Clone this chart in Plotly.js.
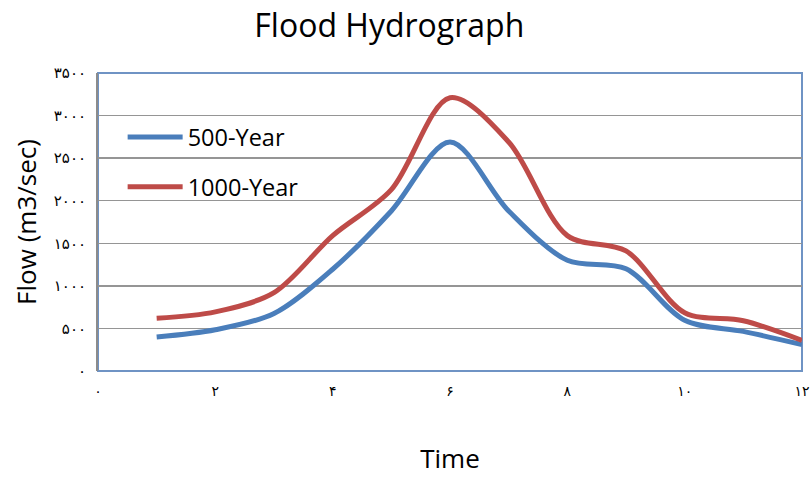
<!DOCTYPE html>
<html>
<head>
<meta charset="utf-8">
<script src="https://cdn.plot.ly/plotly-3.0.1.min.js"></script>
<style>html,body{margin:0;padding:0;background:#fff;}#chart{width:811px;height:477px;}</style>
</head>
<body>
<div id="chart"></div>
<script>
const time = [1, 2, 3, 4, 5, 6, 7, 8, 9, 10, 11, 12];
const flow500 = [400, 485, 675, 1195, 1880, 2690, 1880, 1300, 1200, 595, 465, 310];
const flow1000 = [620, 695, 920, 1590, 2130, 3210, 2690, 1590, 1410, 685, 590, 360];
const xTickVals = [0, 2, 4, 6, 8, 10, 12];
const xTickText = ['۰', '۲', '۴', '۶', '۸', '۱۰', '۱۲'];
const yTickVals = [0, 500, 1000, 1500, 2000, 2500, 3000, 3500];
const yTickText = ['۰', '۵۰۰', '۱۰۰۰', '۱۵۰۰', '۲۰۰۰', '۲۵۰۰', '۳۰۰۰', '۳۵۰۰'];

const traces = [
  {x: time, y: flow500, name: '500-Year', mode: 'lines', legendgroup: 'a',
   line: {color: '#4A7EBB', width: 5, shape: 'spline', smoothing: 0.9}},
  {x: time, y: flow1000, name: '1000-Year', mode: 'lines', legendgroup: 'b',
   line: {color: '#BE4B48', width: 5, shape: 'spline', smoothing: 0.9}}
];

const layout = {
  width: 811, height: 477,
  margin: {l: 98, r: 9, t: 73, b: 106},
  paper_bgcolor: '#fff', plot_bgcolor: '#fff',
  font: {family: '"Open Sans", Lato, sans-serif', color: '#000'},
  title: {text: 'Flood Hydrograph', font: {size: 32, family: '"Open Sans", Lato, sans-serif', color: '#000'},
          x: 0.48, xanchor: 'center', y: 0.945, yanchor: 'middle'},
  xaxis: {range: [0, 12], tickvals: xTickVals, ticktext: xTickText,
          tickfont: {size: 14, family: 'DejaVu Sans', color: '#000'},
          ticks: 'outside', ticklen: 7, tickcolor: 'rgba(0,0,0,0)',
          ticklabeloverflow: 'allow',
          showgrid: false, zeroline: false, showline: false,
          title: {text: 'Time', font: {size: 26, color: '#000'}, standoff: 52}},
  yaxis: {range: [0, 3500], tickvals: yTickVals, ticktext: yTickText,
          tickfont: {size: 15, family: 'DejaVu Sans', color: '#000'},
          ticks: 'outside', ticklen: 7, tickcolor: 'rgba(0,0,0,0)',
          showgrid: true, gridcolor: '#959595', gridwidth: 1.5,
          zeroline: false, showline: true, linecolor: '#8C8C8C', linewidth: 2,
          title: {text: 'Flow (m3/sec)', font: {size: 26, color: '#000'}, standoff: 10}},
  legend: {x: 0.035, y: 0.858, xanchor: 'left', yanchor: 'top', bgcolor: 'rgba(0,0,0,0)',
           font: {size: 23.5, color: '#000'}, traceorder: 'grouped', tracegroupgap: 16,
           itemwidth: 55},
  shapes: [{type: 'rect', xref: 'paper', yref: 'paper', x0: 0, x1: 1, y0: 0, y1: 1,
            line: {color: '#6F93C4', width: 2}, layer: 'below'}]
};

Plotly.newPlot('chart', traces, layout, {displayModeBar: false, staticPlot: true});
</script>
</body>
</html>
